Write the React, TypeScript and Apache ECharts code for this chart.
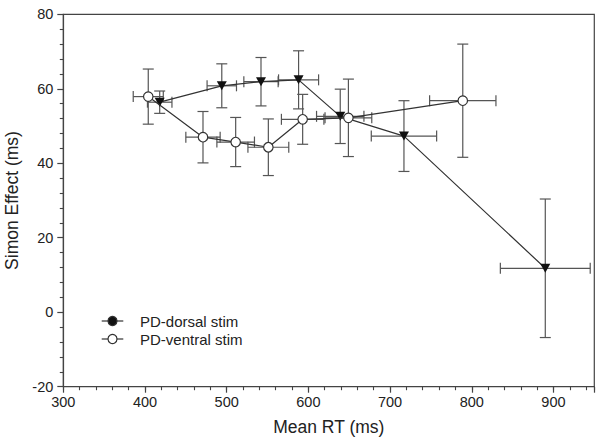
import React, { useEffect, useRef } from "react";
import * as echarts from "echarts";

// Mean RT (ms) and Simon effect (ms) with SEM error bars
const dorsalRT = [418, 494, 542, 588, 639, 717, 890];
const dorsalSE = [56.4, 60.8, 61.9, 62.4, 52.6, 47.3, 11.8];
const dorsalRTerr = [15, 18, 21, 24.5, 29, 40, 55];
const dorsalSEerr = [3.0, 5.9, 6.5, 7.8, 7.3, 9.5, 18.6];

const ventralRT = [404, 471, 511, 551, 593, 649, 789];
const ventralSE = [57.9, 47.0, 45.7, 44.3, 51.8, 52.2, 56.8];
const ventralRTerr = [18.4, 21, 23, 25, 26, 28.6, 40.6];
const ventralSEerr = [7.4, 6.9, 6.6, 7.6, 6.7, 10.4, 15.2];

const xTicks = [300, 400, 500, 600, 700, 800, 900];
const seriesNames = ["PD-dorsal stim", "PD-ventral stim"];

const FONT = "'Liberation Sans', Arial, sans-serif";
const TEXT = "#222";
const AXIS = "#444";
const LINE = "#333";
const ERR = "#555";

const GRID = { left: 63.3, right: 9.7, top: 14.3, bottom: 59.3 };

function errData(xs: number[], ys: number[], xe: number[], ye: number[]) {
  return xs.map((x, i) => [x, ys[i], xe[i], ye[i]]);
}

function errorSeries(data: number[][]) {
  return {
    type: "custom",
    z: 1,
    silent: true,
    encode: { x: 0, y: 1 },
    data,
    renderItem: (_params: any, api: any) => {
      const x = api.value(0);
      const y = api.value(1);
      const ex = api.value(2);
      const ey = api.value(3);
      const c = api.coord([x, y]);
      const l = api.coord([x - ex, y]);
      const r = api.coord([x + ex, y]);
      const t = api.coord([x, y + ey]);
      const b = api.coord([x, y - ey]);
      const cap = 5.5;
      const style = { stroke: ERR, lineWidth: 1.2 };
      const ln = (x1: number, y1: number, x2: number, y2: number) => ({
        type: "line",
        shape: { x1, y1, x2, y2 },
        style,
      });
      return {
        type: "group",
        children: [
          ln(l[0], c[1], r[0], c[1]),
          ln(l[0], c[1] - cap, l[0], c[1] + cap),
          ln(r[0], c[1] - cap, r[0], c[1] + cap),
          ln(c[0], t[1], c[0], b[1]),
          ln(c[0] - cap, t[1], c[0] + cap, t[1]),
          ln(c[0] - cap, b[1], c[0] + cap, b[1]),
        ],
      };
    },
  };
}

export default function App() {
  const ref = useRef<HTMLDivElement>(null);

  useEffect(() => {
    if (!ref.current) return;
    const chart = echarts.init(ref.current, undefined, { renderer: "svg" });
    const legendX1 = 101.7;
    const legendX2 = 123.3;
    const legendY = [321, 339];
    chart.setOption({
      animation: false,
      backgroundColor: "#fff",
      textStyle: { fontFamily: FONT },
      grid: [
        {
          ...GRID,
          containLabel: false,
          outerBoundsMode: "none",
          show: true,
          borderColor: AXIS,
          borderWidth: 1.2,
          backgroundColor: "transparent",
        },
        { ...GRID, containLabel: false, outerBoundsMode: "none", show: false },
      ],
      xAxis: [
        {
          type: "value",
          gridIndex: 0,
          position: "bottom",
          min: 300,
          max: 950,
          interval: 100,
          name: "Mean RT (ms)",
          nameLocation: "middle",
          nameGap: 31,
          nameTextStyle: { fontSize: 17.5, color: TEXT, fontFamily: FONT },
          axisLine: { show: true, onZero: false, lineStyle: { color: AXIS, width: 1.2 } },
          axisTick: { show: true, length: 6, lineStyle: { color: AXIS, width: 1.2 } },
          axisLabel: {
            color: TEXT,
            fontSize: 14.5,
            fontFamily: FONT,
            margin: 8,
            formatter: (v: number) => (xTicks.includes(v) ? String(v) : ""),
          },
          splitLine: { show: false },
        },
        {
          type: "value",
          gridIndex: 1,
          position: "bottom",
          min: 300,
          max: 950,
          interval: 20,
          axisLine: { show: true, onZero: false, lineStyle: { color: "rgba(0,0,0,0)" } },
          axisTick: { show: true, length: 3.5, lineStyle: { color: AXIS, width: 1.1 } },
          axisLabel: { show: false },
          splitLine: { show: false },
        },
      ],
      yAxis: [
        {
          type: "value",
          gridIndex: 0,
          min: -20,
          max: 80,
          interval: 20,
          name: "Simon Effect (ms)",
          nameLocation: "middle",
          nameGap: 38,
          nameTextStyle: { fontSize: 17.5, color: TEXT, fontFamily: FONT },
          axisLine: { show: true, onZero: false, lineStyle: { color: AXIS, width: 1.2 } },
          axisTick: { show: true, length: 6, lineStyle: { color: AXIS, width: 1.2 } },
          minorTick: { show: true, splitNumber: 5, length: 3.5, lineStyle: { color: AXIS, width: 1.1 } },
          axisLabel: { color: TEXT, fontSize: 14.5, fontFamily: FONT, margin: 10 },
          splitLine: { show: false },
        },
        {
          type: "value",
          gridIndex: 1,
          min: -20,
          max: 80,
          axisLine: { show: false, onZero: false },
          axisTick: { show: false },
          axisLabel: { show: false },
          splitLine: { show: false },
        },
      ],
      series: [
        errorSeries(errData(dorsalRT, dorsalSE, dorsalRTerr, dorsalSEerr)),
        errorSeries(errData(ventralRT, ventralSE, ventralRTerr, ventralSEerr)),
        {
          name: seriesNames[0],
          type: "line",
          z: 3,
          data: dorsalRT.map((x, i) => [x, dorsalSE[i]]),
          symbol: "triangle",
          symbolRotate: 180,
          symbolSize: [10, 9],
          itemStyle: { color: "#111" },
          lineStyle: { color: LINE, width: 1.2 },
        },
        {
          name: seriesNames[1],
          type: "line",
          z: 4,
          data: ventralRT.map((x, i) => [x, ventralSE[i]]),
          symbol: "circle",
          symbolSize: 9.5,
          showAllSymbol: true,
          itemStyle: { color: "#fff", borderColor: LINE, borderWidth: 1.2 },
          lineStyle: { color: LINE, width: 1.2 },
        },
      ],
      graphic: [
        ...seriesNames.flatMap((name, i) => [
          {
            type: "line",
            shape: { x1: legendX1, y1: legendY[i], x2: legendX2, y2: legendY[i] },
            style: { stroke: LINE, lineWidth: 1.2 },
          },
          {
            type: "circle",
            shape: { cx: (legendX1 + legendX2) / 2, cy: legendY[i], r: 4.5 },
            style: { fill: i === 0 ? "#111" : "#fff", stroke: LINE, lineWidth: 1.2 },
          },
          {
            type: "text",
            x: 140,
            y: legendY[i],
            style: {
              text: name,
              fill: TEXT,
              font: `15px ${FONT}`,
              verticalAlign: "middle",
              align: "left",
            },
          },
        ]),
      ],
    });
    return () => chart.dispose();
  }, []);

  return (
    <div
      ref={ref}
      style={{ position: "fixed", left: 0, top: 0, width: 604, height: 446, background: "#fff" }}
    />
  );
}
